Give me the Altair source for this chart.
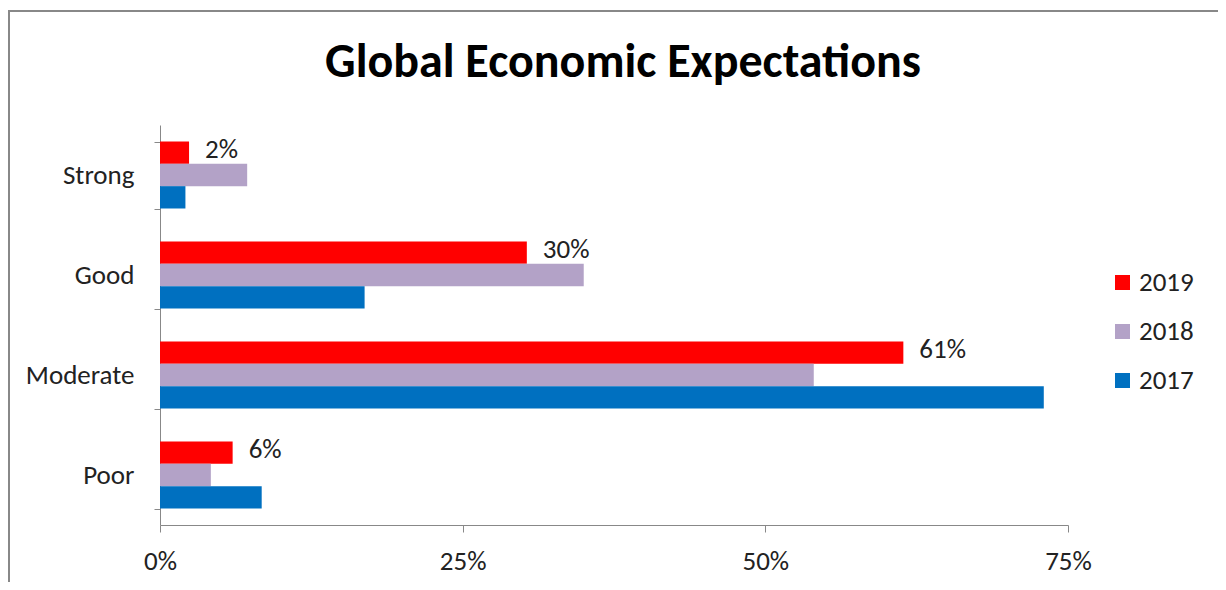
import altair as alt
import pandas as pd

categories = ["Strong", "Good", "Moderate", "Poor"]
years = ["2019", "2018", "2017"]
v2019 = [0.024, 0.303, 0.614, 0.060]
v2018 = [0.072, 0.350, 0.540, 0.042]
v2017 = [0.021, 0.169, 0.730, 0.084]
colors = ["#FF0000", "#B3A2C7", "#0070C0"]

rows = []
for i, c in enumerate(categories):
    for y, vals in zip(years, [v2019, v2018, v2017]):
        rows.append({"category": c, "year": y, "value": vals[i]})
df = pd.DataFrame(rows)

FONT = "Carlito, Open Sans"
FS = 27

y_enc = alt.Y("category:N", sort=categories, title=None,
              scale=alt.Scale(paddingInner=0.33, paddingOuter=0.165),
              axis=alt.Axis(tickBand="extent", labelFontSize=FS, labelColor="#222",
                            labelPadding=20, tickSize=6, domainColor="#888",
                            tickColor="#888", labelFont=FONT))
x_enc = alt.X("value:Q", title=None,
              scale=alt.Scale(domain=[0, 0.75], nice=False),
              axis=alt.Axis(values=[0, 0.25, 0.5, 0.75], format=".0%", grid=False,
                            labelFontSize=FS, labelColor="#222", labelPadding=16,
                            labelFlush=False, labelAlign="center", labelBound=False,
                            tickSize=7, domainColor="#888", tickColor="#888",
                            labelFont=FONT))
yoff = alt.YOffset("year:N", sort=years, scale=alt.Scale(paddingInner=0, paddingOuter=0))

bars = alt.Chart(df).mark_bar().encode(
    x=x_enc,
    y=y_enc,
    yOffset=yoff,
    color=alt.Color("year:N", sort=years,
                    scale=alt.Scale(domain=years, range=colors),
                    legend=alt.Legend(title=None, orient="none", legendX=949, legendY=144,
                                      symbolType="square", symbolSize=225,
                                      symbolStrokeWidth=0, labelFontSize=FS,
                                      labelColor="#222", labelFont=FONT,
                                      rowPadding=21, padding=0, labelOffset=3)),
)

labels = alt.Chart(df).transform_filter(alt.datum.year == "2019").mark_text(
    align="left", baseline="middle", dx=16, dy=-3, fontSize=FS, color="#222", font=FONT
).encode(
    x="value:Q",
    y=alt.Y("category:N", sort=categories),
    yOffset=yoff,
    text=alt.Text("value:Q", format=".0%"),
)

frame = alt.Chart(df).mark_rect(fill=None, stroke="#888", strokeWidth=2).encode(
    x=alt.value(-151), y=alt.value(-114), x2=alt.value(1300), y2=alt.value(700)
)

chart = alt.layer(frame, bars, labels).properties(
    width=908, height=400,
    title=alt.TitleParams("Global Economic Expectations", fontSize=48, fontWeight="bold",
                          font=FONT, anchor="middle", frame="group", offset=-77,
                          color="#000", dx=9),
    autosize=alt.AutoSizeParams(type="none"),
    padding={"left": 152, "top": 117, "right": 150, "bottom": 57},
).configure_view(stroke=None)

chart.save("out.html", embed_options={"renderer": "svg", "actions": False})
